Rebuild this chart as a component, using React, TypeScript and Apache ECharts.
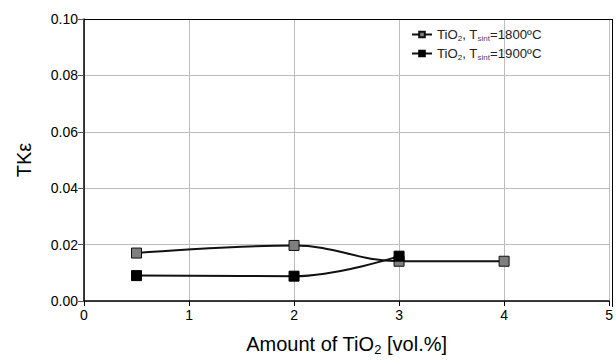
import React, { useEffect, useRef } from "react";
import * as echarts from "echarts";

const xTicks = [0, 1, 2, 3, 4, 5];
const yTicks = [0, 0.02, 0.04, 0.06, 0.08, 0.1];
const seriesNames = ["TiO2, Tsint=1800ºC", "TiO2, Tsint=1900ºC"];
const x1800 = [0.5, 2, 3, 4];
const y1800 = [0.017, 0.0197, 0.0141, 0.0141];
const x1900 = [0.5, 2, 3];
const y1900 = [0.009, 0.0088, 0.0159];

const legendLabel = (name: string) =>
  name === seriesNames[0]
    ? "TiO{sub|2}, T{subp|sint}=1800ºC"
    : "TiO{sub|2}, T{subp|sint}=1900ºC";

export default function App() {
  const ref = useRef<HTMLDivElement>(null);
  useEffect(() => {
    document.body.style.margin = "0";
    if (!ref.current) return;
    const chart = echarts.init(ref.current, null, { renderer: "svg" });
    const font = "Arial";
    const pair = (xs: number[], ys: number[]) => xs.map((x, i) => [x, ys[i]]);
    chart.setOption({
      animation: false,
      backgroundColor: "#fff",
      textStyle: { fontFamily: font },
      grid: { left: 84, right: 3, top: 19, bottom: 54, containLabel: false },
      legend: {
        orient: "vertical",
        left: 406,
        top: 23,
        itemWidth: 20,
        itemHeight: 7,
        itemGap: 5,
        data: seriesNames,
        formatter: legendLabel,
        textStyle: {
          fontFamily: font,
          fontSize: 13.2,
          color: "#222",
          rich: {
            sub: { fontSize: 8, padding: [7, 0, 0, 0], color: "#222", fontFamily: font },
            subp: { fontSize: 8, padding: [7, 0, 0, 0], color: "#5b3a6e", fontFamily: font },
          },
        },
      },
      xAxis: {
        type: "value",
        min: xTicks[0],
        max: xTicks[xTicks.length - 1],
        interval: 1,
        name: "Amount of TiO{sub|2} [vol.%]",
        nameLocation: "middle",
        nameGap: 30,
        nameTextStyle: {
          fontSize: 20,
          color: "#000",
          fontFamily: font,
          rich: {
            sub: { fontSize: 13, padding: [12, 0, 0, 0], color: "#000", fontFamily: font },
          },
        },
        axisLine: { show: true, onZero: false, lineStyle: { color: "#000", width: 1.5 } },
        axisTick: { show: true, length: 5, lineStyle: { color: "#000" } },
        axisLabel: { fontSize: 14, color: "#000", margin: 7, fontFamily: font },
        splitLine: { show: true, lineStyle: { color: "#bdbdbd", width: 1 } },
      },
      yAxis: {
        type: "value",
        min: yTicks[0],
        max: yTicks[yTicks.length - 1],
        interval: 0.02,
        name: "TKε",
        nameLocation: "middle",
        nameGap: 50,
        nameTextStyle: { fontSize: 20, color: "#000", fontFamily: font },
        axisLine: { show: true, lineStyle: { color: "#000", width: 1.5 } },
        axisTick: { show: true, length: 6, lineStyle: { color: "#555" } },
        axisLabel: {
          fontSize: 14,
          color: "#000",
          margin: 6,
          fontFamily: font,
          formatter: (v: number) => v.toFixed(2),
        },
        splitLine: { show: true, lineStyle: { color: "#bdbdbd", width: 1 } },
      },
      series: [
        {
          name: seriesNames[0],
          type: "line",
          data: pair(x1800, y1800),
          smooth: 0.4,
          symbol: "rect",
          symbolSize: 10,
          lineStyle: { color: "#111", width: 2 },
          itemStyle: { color: "#7f7f7f", borderColor: "#111", borderWidth: 1 },
          z: 3,
        },
        {
          name: seriesNames[1],
          type: "line",
          data: pair(x1900, y1900),
          smooth: 0.4,
          symbol: "rect",
          symbolSize: 10,
          lineStyle: { color: "#111", width: 2 },
          itemStyle: { color: "#000", borderColor: "#000", borderWidth: 1 },
          z: 4,
        },
      ],
    });
    return () => chart.dispose();
  }, []);
  return (
    <div style={{ position: "relative", width: 616, height: 361 }}>
      <div ref={ref} style={{ width: 616, height: 361 }} />
      <div
        style={{
          position: "absolute",
          left: 84,
          top: 19,
          width: 529,
          height: 288,
          borderTop: "1.5px solid #000",
          borderRight: "1.5px solid #000",
          boxSizing: "border-box",
          pointerEvents: "none",
        }}
      />
    </div>
  );
}
